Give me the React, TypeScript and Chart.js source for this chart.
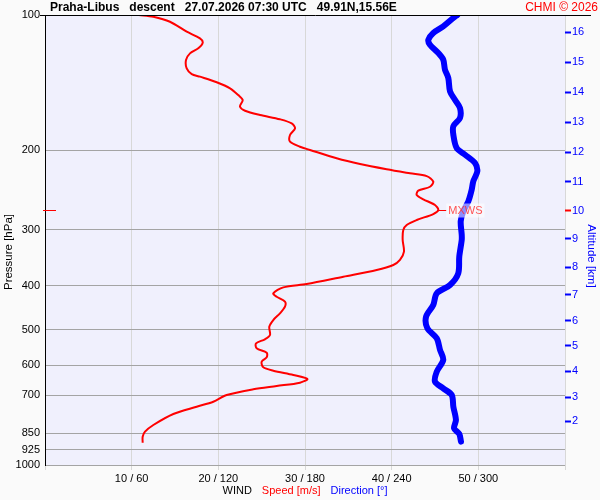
import React, { useEffect, useRef } from 'react';
import { Chart, registerables } from 'chart.js';

Chart.register(...registerables);

const FONT = '"Liberation Sans", Arial, sans-serif';

// Wind speed profile [m/s] vs pressure [hPa]
const speedPressure = [100, 100.9, 103.5, 108.9, 112.7, 115.2, 118.6, 121.7, 125.9, 131.4, 135.3, 137.1, 141.1, 145.5, 150.6, 154.5, 159.8, 163.2, 166.8, 170.5, 174.1, 178.6, 184.8, 191.2, 196.2, 199.5, 208.2, 214.4, 220.2, 224.8, 228.0, 234.6, 240.8, 245.7, 251.2, 256.8, 264.4, 271.3, 276.9, 285.5, 292.9, 300.5, 316.2, 335.7, 350.3, 359.4, 368.8, 381.6, 396.1, 402.9, 415.4, 422.7, 433.6, 444.9, 460.2, 476.2, 492.8, 514.2, 525.6, 536.5, 550.4, 562.9, 576.4, 589.5, 606.6, 617.2, 631.0, 644.0, 656.3, 667.6, 679.0, 699.1, 723.4, 742.1, 770.3, 814.9, 843.3, 865.2, 892.1];
const speedValues = [10.85, 12.5, 14.42, 16.35, 17.88, 18.2, 17.69, 16.73, 16.27, 16.35, 16.93, 17.88, 19.81, 21.35, 22.3, 22.81, 22.5, 23.08, 24.81, 27.11, 28.46, 28.85, 28.27, 28.27, 29.42, 30.58, 33.65, 36.35, 39.42, 42.11, 44.04, 44.8, 44.42, 43.07, 42.89, 43.65, 45.0, 45.38, 44.8, 42.89, 41.73, 41.34, 41.27, 41.42, 40.96, 40.19, 38.27, 34.42, 30.19, 27.5, 26.34, 26.73, 27.69, 27.69, 27.11, 26.34, 25.88, 25.96, 25.38, 24.35, 24.42, 25.58, 25.58, 25.0, 25.19, 26.34, 28.65, 30.27, 29.42, 26.73, 24.04, 20.96, 19.42, 17.5, 14.81, 12.5, 11.54, 11.27, 11.27];

// Wind direction profile [deg] vs pressure [hPa]
const dirPressure = [100, 101.5, 106.0, 109.6, 113.5, 116.4, 121.5, 125.7, 132.3, 138.0, 147.8, 154.3, 160.9, 169.4, 176.7, 184.5, 197.5, 204.4, 213.2, 222.5, 234.2, 244.5, 259.4, 273.1, 287.4, 307.8, 316.2, 344.5, 375.0, 398.1, 415.4, 441.0, 468.2, 496.8, 523.0, 555.2, 584.4, 620.4, 652.9, 675.5, 699.1, 742.1, 794.3, 828.7, 853.3, 887.6];
const dirValues = [285.4, 282.7, 275.7, 268.8, 265.4, 266.5, 272.3, 275.7, 276.9, 279.2, 280.4, 283.8, 287.3, 287.3, 282.7, 282.7, 285.0, 290.8, 297.7, 299.3, 296.5, 295.4, 293.1, 289.6, 287.8, 288.5, 288.5, 286.8, 286.1, 280.4, 271.2, 268.8, 263.8, 264.7, 271.2, 273.5, 275.7, 271.2, 270.0, 275.7, 281.6, 282.7, 284.5, 283.2, 286.8, 288.0];

// Axis ticks
const pressureTicks = [100, 200, 300, 400, 500, 600, 700, 850, 925, 1000];
const altKm = [2, 3, 4, 5, 6, 7, 8, 9, 10, 11, 12, 13, 14, 15, 16];
const altPressure = [798.6, 706.4, 618.3, 543.8, 478.6, 419.0, 363.1, 314.6, 272.6, 235.0, 201.6, 172.9, 148.3, 127.2, 109.1];
const speedTicks = [10, 20, 30, 40, 50];
const dirPerSpeed = 6;

const titleText = 'Praha-Libus   descent   27.07.2026 07:30 UTC   49.91N,15.56E';
const copyrightText = 'CHMI \u00a9 2026';

export default function App() {
  const ref = useRef<HTMLCanvasElement>(null);

  useEffect(() => {
    document.body.style.margin = '0';
    const canvas = ref.current;
    if (!canvas) return;

    const decor = {
      id: 'decor',
      beforeDraw(chart: any) {
        const { ctx, chartArea: a } = chart;
        ctx.save();
        ctx.fillStyle = '#fafafa';
        ctx.fillRect(0, 0, chart.width, chart.height);
        ctx.fillStyle = '#f0f0fd';
        ctx.fillRect(a.left, a.top, a.right - a.left, a.bottom - a.top);
        ctx.restore();
      },
      afterDraw(chart: any) {
        const { ctx, chartArea: a } = chart;
        const xs = chart.scales.x;
        const ys = chart.scales.y;
        ctx.save();
        // top line
        ctx.strokeStyle = '#000';
        ctx.lineWidth = 1;
        ctx.beginPath();
        ctx.moveTo(a.left - 5, a.top + 0.5);
        ctx.lineTo(591, a.top + 0.5);
        ctx.stroke();
        // title
        ctx.textBaseline = 'middle';
        ctx.textAlign = 'left';
        ctx.fillStyle = '#000';
        ctx.font = 'bold 12px ' + FONT;
        ctx.fillText(titleText, 50, 8);
        ctx.fillStyle = '#ff0000';
        ctx.font = '12px ' + FONT;
        ctx.textAlign = 'right';
        ctx.fillText(copyrightText, 598, 8);
        // axis titles
        ctx.font = '11.5px ' + FONT;
        ctx.textAlign = 'center';
        ctx.fillStyle = '#000';
        ctx.save();
        ctx.translate(9, 252);
        ctx.rotate(-Math.PI / 2);
        ctx.fillText('Pressure [hPa]', 0, 0);
        ctx.restore();
        ctx.fillStyle = '#0000ff';
        ctx.save();
        ctx.translate(591, 256);
        ctx.rotate(Math.PI / 2);
        ctx.fillText('Altitude [km]', 0, 0);
        ctx.restore();
        // bottom legend
        ctx.font = '11px ' + FONT;
        ctx.textAlign = 'left';
        const parts: [string, string][] = [['WIND', '#000'], ['Speed [m/s]', '#ff0000'], ['Direction [\u00b0]', '#0000ff']];
        const gap = 10;
        const widths = parts.map((p) => ctx.measureText(p[0]).width);
        const total = widths.reduce((s, w) => s + w, 0) + gap * (parts.length - 1);
        let cx = (a.left + a.right) / 2 - total / 2;
        parts.forEach((p, i) => {
          ctx.fillStyle = p[1];
          ctx.fillText(p[0], cx, 491);
          cx += widths[i] + gap;
        });
        // max wind marker
        let mi = 0;
        speedValues.forEach((v, i) => { if (v > speedValues[mi]) mi = i; });
        const px = xs.getPixelForValue(speedValues[mi]);
        const py = Math.round(ys.getPixelForValue(speedPressure[mi])) + 0.5;
        ctx.strokeStyle = '#ff0000';
        ctx.lineWidth = 1;
        ctx.beginPath();
        ctx.moveTo(px, py);
        ctx.lineTo(px + 8, py);
        ctx.moveTo(a.left - 2, py);
        ctx.lineTo(a.left + 11, py);
        ctx.stroke();
        ctx.font = '11px ' + FONT;
        const label = 'MXWS';
        const lw = ctx.measureText(label).width;
        ctx.fillStyle = 'rgba(255,255,255,0.55)';
        ctx.fillRect(px + 8, py - 7, lw + 4, 14);
        ctx.fillStyle = 'rgba(255,40,40,0.8)';
        ctx.textBaseline = 'middle';
        ctx.fillText(label, px + 10, py + 0.5);
        ctx.restore();
      },
    };

    const chart = new Chart(canvas, {
      type: 'scatter',
      data: {
        datasets: [
          {
            label: 'Direction',
            data: dirValues.map((d, i) => ({ x: d, y: dirPressure[i] })),
            xAxisID: 'xDir',
            yAxisID: 'y',
            showLine: true,
            borderColor: '#0000ff',
            borderWidth: 6,
            borderCapStyle: 'round',
            borderJoinStyle: 'round',
            pointRadius: 0,
            tension: 0.3,
          },
          {
            label: 'Speed',
            data: speedValues.map((s, i) => ({ x: s, y: speedPressure[i] })),
            xAxisID: 'x',
            yAxisID: 'y',
            showLine: true,
            borderColor: '#ff0000',
            borderWidth: 2,
            borderJoinStyle: 'round',
            pointRadius: 0,
            tension: 0.3,
          },
        ],
      },
      options: {
        responsive: false,
        animation: false,
        devicePixelRatio: 1,
        layout: { padding: { top: 15, left: 0, right: 0, bottom: 0 } },
        plugins: { legend: { display: false }, tooltip: { enabled: false }, title: { display: false } },
        scales: {
          x: {
            type: 'linear',
            position: 'bottom',
            min: 0,
            max: 60,
            afterBuildTicks: (scale: any) => {
              scale.ticks = [0, ...speedTicks, 60].map((v) => ({ value: v }));
            },
            afterFit: (scale: any) => { scale.height = 35; },
            ticks: {
              autoSkip: false,
              maxRotation: 0,
              padding: 2,
              color: '#000',
              font: { family: FONT, size: 11 },
              callback: (v: any) => (speedTicks.includes(v) ? `${v} / ${v * dirPerSpeed}` : ''),
            },
            grid: { color: '#d8d8d8', tickColor: '#d8d8d8', tickLength: 5, lineWidth: 1 },
            border: { display: false },
          },
          xDir: {
            type: 'linear',
            display: false,
            min: 0,
            max: 60 * dirPerSpeed,
          },
          y: {
            type: 'logarithmic',
            position: 'left',
            reverse: true,
            min: 100,
            max: 1000,
            afterBuildTicks: (scale: any) => {
              scale.ticks = pressureTicks.map((v) => ({ value: v }));
            },
            afterFit: (scale: any) => { scale.width = 45; },
            ticks: {
              autoSkip: false,
              padding: 5,
              color: '#000',
              font: { family: FONT, size: 11 },
              callback: (v: any) => String(v),
            },
            grid: {
              drawTicks: false,
              color: (c: any) => (c.tick && c.tick.value === 100 ? 'rgba(0,0,0,0)' : '#a4a4a4'),
              lineWidth: 1,
            },
            border: { display: true, color: '#000', width: 1 },
          },
          yAlt: {
            type: 'logarithmic',
            position: 'right',
            reverse: true,
            min: 100,
            max: 1000,
            afterBuildTicks: (scale: any) => {
              scale.ticks = altPressure.map((v) => ({ value: v }));
            },
            afterFit: (scale: any) => { scale.width = 35; },
            ticks: {
              autoSkip: false,
              padding: 1,
              color: '#0000ff',
              font: { family: FONT, size: 11 },
              callback: (_v: any, i: number) => String(altKm[i]),
            },
            grid: {
              drawOnChartArea: false,
              drawTicks: true,
              tickLength: 6,
              tickWidth: 2,
              tickColor: (c: any) => (altKm[c.index] === 10 ? '#ff0000' : '#0000ff'),
            },
            border: { display: false },
          },
        },
      },
      plugins: [decor],
    } as any);

    return () => chart.destroy();
  }, []);

  return (
    <div style={{ position: 'absolute', left: 0, top: 0, width: 600, height: 500 }}>
      <canvas ref={ref} width={600} height={500} style={{ display: 'block', width: 600, height: 500 }} />
    </div>
  );
}
